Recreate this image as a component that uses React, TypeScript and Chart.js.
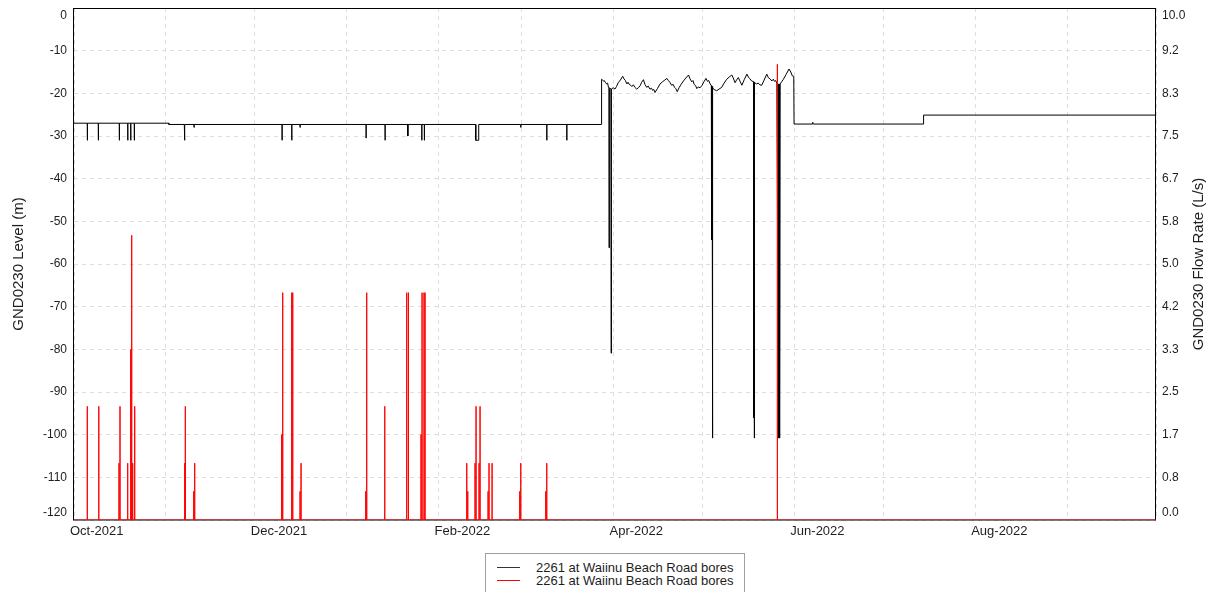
import React, { useEffect, useRef } from 'react';
import { Chart, registerables } from 'chart.js';

Chart.register(...registerables);

const FONT = "'Liberation Sans', Arial, Helvetica, sans-serif";
const TEXT_COLOR = '#1e1e1e';
const GRID_COLOR = '#dedede';
const LEVEL_COLOR = '#000000';
const FLOW_COLOR = '#ff0000';
const SERIES_LABEL = '2261 at Waiinu Beach Road bores';
const LEFT_TITLE = 'GND0230 Level (m)';
const RIGHT_TITLE = 'GND0230 Flow Rate (L/s)';

// x values are days since 1 Oct 2021
const monthStartDays = [0, 31, 61, 92, 123, 151, 182, 212, 243, 273, 304, 335, 365];
const monthLabels = ['Oct-2021', '', 'Dec-2021', '', 'Feb-2022', '', 'Apr-2022', '', 'Jun-2022', '', 'Aug-2022', '', ''];

const levelTickValues = [-120, -110, -100, -90, -80, -70, -60, -50, -40, -30, -20, -10, 0];
const flowTickLabels = ['0.0', '0.8', '1.7', '2.5', '3.3', '4.2', '5.0', '5.8', '6.7', '7.5', '8.3', '9.2', '10.0'];

// Level before pumping period: baseline steps
const earlyBaseDays = [0, 32, 177.95];
const earlyBaseLevels = [-27.0, -27.3, -27.3];

// Short dips of the level before pumping
const earlyDipDays = [4.49, 8.2, 15.28, 18.12, 19.13, 20.34, 37.21, 40.49, 70.18, 73.45, 76.25, 98.52, 104.93, 112.58, 117.31, 118.18, 135.53, 150.71, 159.48, 166.23];
const earlyDipLengths = [0.05, 0.05, 0.05, 0.05, 0.05, 0.05, 0.2, 0.05, 0.05, 0.05, 0.05, 0.05, 0.05, 0.1, 0.05, 0.05, 1.0, 0.05, 0.05, 0.05];
const earlyDipLevels = [-31, -31, -31, -31, -31, -31, -31, -28, -31, -31, -28, -30.5, -31, -30, -31, -31, -31, -28, -31, -31];

// Pumping period trace (days, levels), including its deep drawdowns
const pumpDays = [
  178.0, 178.3, 178.6, 178.9, 179.2, 179.7, 180.0, 180.3, 180.45, 180.5, 180.6, 181.1, 181.2, 181.3, 181.9, 182.5,
  183.0, 183.6, 184.3, 185.1, 185.5, 186.0, 186.5, 186.9, 187.3, 187.8, 188.2, 188.7, 189.2, 189.8, 190.4, 191.0,
  191.5, 192.1, 192.6, 193.2, 193.7, 194.3, 194.8, 195.2, 195.6, 196.0, 196.8, 197.7, 198.5, 199.3, 200.0, 200.5,
  201.0, 201.6, 202.1, 202.6, 203.0, 203.5, 204.1, 204.8, 205.6, 206.4, 207.3, 207.8, 208.4, 208.8, 209.2, 209.7,
  210.1, 210.6, 211.2, 211.8, 212.5, 213.2, 213.7, 214.1, 214.6, 215.0, 215.0, 215.05, 215.2, 215.25, 215.4, 215.45,
  215.7, 216.2, 216.8, 217.6, 218.5, 219.3, 220.2, 221.0, 221.9, 222.4, 223.0, 223.5, 224.1, 224.7, 225.3, 226.1,
  227.0, 227.5, 228.0, 228.6, 229.3, 229.3, 229.4, 229.5, 229.55, 230.3, 230.8, 231.4, 232.0, 232.8, 233.7, 234.2,
  234.8, 235.4, 235.9, 236.3, 236.7, 237.1, 237.5, 237.55, 237.7, 237.75, 237.9, 237.95, 238.1, 238.2, 238.8, 239.3,
  240.2, 241.2, 241.8, 242.3, 242.8,
];
const pumpLevels = [
  -16.7, -16.9, -17.1, -17.0, -17.4, -17.8, -17.6, -18.6, -18.7, -56.2, -18.8, -18.9, -80.9, -19.0, -18.7, -19.0,
  -18.4, -17.5, -16.9, -16.0, -16.6, -17.0, -17.8, -17.4, -17.9, -18.1, -18.4, -18.0, -18.6, -19.0, -18.7, -18.2,
  -17.4, -16.8, -17.9, -18.6, -18.3, -19.0, -18.8, -19.3, -19.1, -19.8, -18.9, -17.8, -17.3, -16.9, -16.5, -17.0,
  -17.4, -18.1, -17.9, -18.6, -18.9, -19.6, -18.7, -17.9, -17.1, -16.4, -15.7, -16.6, -17.3, -17.0, -17.9, -18.2,
  -18.9, -18.5, -18.7, -18.2, -17.3, -16.5, -17.2, -17.0, -17.8, -18.2, -54.3, -18.3, -54.3, -18.4, -100.8, -18.6,
  -19.0, -19.2, -19.4, -19.0, -18.6, -17.6, -16.7, -16.2, -15.7, -16.4, -17.5, -16.9, -16.3, -17.2, -18.1, -16.8,
  -15.5, -16.2, -16.6, -17.1, -17.3, -96.0, -17.4, -100.8, -17.5, -17.8, -17.6, -18.0, -18.1, -16.9, -15.5, -16.3,
  -16.6, -17.1, -16.7, -17.2, -17.0, -17.6, -77.3, -17.8, -100.8, -17.9, -77.3, -17.8, -100.8, -17.8, -17.2, -16.7,
  -15.6, -14.3, -15.0, -15.9, -16.0,
];

// After pumping
const lateDays = [242.9, 249.0, 249.2, 249.4, 286.6, 286.6, 365];
const lateLevels = [-27.2, -27.2, -26.8, -27.2, -27.2, -25.1, -25.1];

// Flow rate spikes (days, L/s)
const flowDays = [
  4.49, 8.27, 8.43, 15.18, 15.52, 18.12, 19.13, 19.47, 19.8, 20.48, 37.35, 37.55, 40.38, 40.72,
  70.07, 70.41, 73.45, 73.79, 76.25, 76.59, 98.41, 98.75, 104.83, 112.25, 112.69, 112.92,
  117.07, 117.41, 118.08, 118.42, 132.49, 132.83, 135.29, 135.63, 136.64, 136.98, 139.68, 140.01,
  141.03, 150.37, 150.71, 159.14, 159.48, 237.28,
];
const flowRates = [
  2.22, 1.11, 2.22, 1.11, 2.22, 1.11, 3.33, 5.56, 1.11, 2.22, 1.11, 2.22, 0.56, 1.11,
  1.67, 4.44, 4.44, 4.44, 0.56, 1.11, 0.56, 4.44, 2.22, 4.44, 4.44, 2.22,
  1.67, 4.44, 4.44, 4.44, 1.11, 0.56, 1.11, 2.22, 1.11, 2.22, 0.56, 1.11,
  1.11, 0.56, 1.11, 0.56, 1.11, 8.9,
];

type Pt = { x: number; y: number };

function buildLevelSeries(): Pt[] {
  const early: Pt[] = [];
  for (let i = 0; i < earlyBaseDays.length; i++) {
    const lvl = i === 0 ? earlyBaseLevels[0] : earlyBaseLevels[i - 1];
    if (i > 0) early.push({ x: earlyBaseDays[i], y: lvl });
    early.push({ x: earlyBaseDays[i], y: earlyBaseLevels[i] });
  }
  earlyDipDays.forEach((d, i) => {
    const base = d < earlyBaseDays[1] ? earlyBaseLevels[0] : earlyBaseLevels[1];
    const end = d + earlyDipLengths[i];
    early.push({ x: d, y: base }, { x: d, y: earlyDipLevels[i] }, { x: end, y: earlyDipLevels[i] }, { x: end, y: base });
  });
  early.sort((a, b) => a.x - b.x);
  const pump = pumpDays.map((d, i) => ({ x: d, y: pumpLevels[i] }));
  const late = lateDays.map((d, i) => ({ x: d, y: lateLevels[i] }));
  return [...early, ...pump, ...late];
}

function buildFlowSeries(): Pt[] {
  const pts: Pt[] = [{ x: 0, y: 0 }];
  flowDays.forEach((d, i) => {
    pts.push({ x: d, y: 0 }, { x: d, y: flowRates[i] }, { x: d, y: 0 });
  });
  pts.push({ x: 365, y: 0 });
  return pts;
}

const framePlugin = {
  id: 'plotFrame',
  beforeDatasetsDraw(chart: any) {
    const { ctx, chartArea } = chart;
    ctx.save();
    ctx.strokeStyle = '#000';
    ctx.lineWidth = 1;
    ctx.strokeRect(
      Math.round(chartArea.left) - 0.5,
      Math.round(chartArea.top) + 0.5,
      Math.round(chartArea.right - chartArea.left),
      Math.round(chartArea.bottom - chartArea.top) - 0.5,
    );
    ctx.restore();
  },
};

const rightTitlePlugin = {
  id: 'rightTitle',
  afterDraw(chart: any) {
    const { ctx, chartArea } = chart;
    ctx.save();
    ctx.font = `15px ${FONT}`;
    ctx.fillStyle = TEXT_COLOR;
    ctx.textAlign = 'center';
    ctx.textBaseline = 'middle';
    ctx.translate(chart.width - 16, (chartArea.top + chartArea.bottom) / 2);
    ctx.rotate(-Math.PI / 2);
    ctx.fillText(RIGHT_TITLE, 0, 0);
    ctx.restore();
  },
};

function Legend() {
  const row = (top: number, color: string) => (
    <div style={{ position: 'absolute', left: 0, top, width: '100%', height: 13 }}>
      <div style={{ position: 'absolute', left: 11, top: 6, width: 23, height: 1, background: color }} />
      <div style={{ position: 'absolute', left: 50, top: 0, lineHeight: '13px', fontSize: 13, whiteSpace: 'nowrap' }}>
        {SERIES_LABEL}
      </div>
    </div>
  );
  return (
    <div
      style={{
        position: 'absolute',
        left: 485,
        top: 553,
        width: 260,
        height: 48,
        boxSizing: 'border-box',
        border: '1px solid #a0a0a0',
        background: '#fff',
        fontFamily: FONT,
        color: TEXT_COLOR,
      }}
    >
      {row(7, '#333')}
      {row(20, FLOW_COLOR)}
    </div>
  );
}

export default function App() {
  const ref = useRef<HTMLCanvasElement>(null);

  useEffect(() => {
    const canvas = ref.current;
    if (!canvas) return;
    Chart.defaults.font.family = FONT;
    const chart = new Chart(canvas, {
      type: 'line',
      data: {
        datasets: [
          {
            label: SERIES_LABEL,
            data: buildFlowSeries(),
            yAxisID: 'y2',
            borderColor: FLOW_COLOR,
            backgroundColor: FLOW_COLOR,
            borderWidth: 1,
            pointRadius: 0,
            tension: 0,
            order: 0,
          },
          {
            label: SERIES_LABEL,
            data: buildLevelSeries(),
            yAxisID: 'y',
            borderColor: LEVEL_COLOR,
            backgroundColor: LEVEL_COLOR,
            borderWidth: 1,
            pointRadius: 0,
            tension: 0,
            order: 1,
          },
        ],
      },
      options: {
        animation: false,
        responsive: false,
        devicePixelRatio: 1,
        layout: { padding: { top: 8, left: 0, right: 0, bottom: 0 } },
        plugins: { legend: { display: false }, tooltip: { enabled: false } },
        scales: {
          x: {
            type: 'linear',
            min: 0,
            max: 365,
            afterBuildTicks: (s: any) => {
              s.ticks = monthStartDays.map((v) => ({ value: v }));
            },
            afterFit: (s: any) => {
              s.height = 72;
              s.paddingLeft = 0;
              s.paddingRight = 0;
            },
            ticks: {
              autoSkip: false,
              maxRotation: 0,
              minRotation: 0,
              align: 'start',
              labelOffset: -4,
              padding: 4,
              color: TEXT_COLOR,
              font: { size: 13, family: FONT },
              callback: (_v: any, i: number) => monthLabels[i],
            },
            grid: { color: GRID_COLOR, drawTicks: false, lineWidth: 1 },
            border: { display: false, dash: [4, 4] },
          },
          y: {
            type: 'linear',
            position: 'left',
            min: -120,
            max: 0,
            afterBuildTicks: (s: any) => {
              s.ticks = levelTickValues.map((v) => ({ value: v }));
            },
            afterFit: (s: any) => {
              s.width = 74;
              s.paddingTop = 0;
              s.paddingBottom = 0;
            },
            ticks: {
              autoSkip: false,
              padding: 7,
              color: TEXT_COLOR,
              font: { size: 12, family: FONT },
              callback: (v: any) => {
                const n = Number(v);
                if (n === 0) return ['', '0'];
                if (n === -120) return ['-120', ''];
                return String(n);
              },
            },
            grid: { color: GRID_COLOR, drawTicks: false, lineWidth: 1 },
            border: { display: false, dash: [4, 4] },
            title: {
              display: true,
              text: LEFT_TITLE,
              color: TEXT_COLOR,
              font: { size: 15, family: FONT },
              padding: { top: 10, bottom: 0 },
            },
          },
          y2: {
            type: 'linear',
            position: 'right',
            min: 0,
            max: 10,
            afterBuildTicks: (s: any) => {
              s.ticks = flowTickLabels.map((_l, i) => ({ value: (i * 10) / 12 }));
            },
            afterFit: (s: any) => {
              s.width = 59;
              s.paddingTop = 0;
              s.paddingBottom = 0;
            },
            ticks: {
              autoSkip: false,
              padding: 6,
              color: TEXT_COLOR,
              font: { size: 12, family: FONT },
              callback: (_v: any, i: number) => {
                const lab = flowTickLabels[i];
                if (i === 0) return [lab, ''];
                if (i === flowTickLabels.length - 1) return ['', lab];
                return lab;
              },
            },
            grid: { display: false, drawTicks: false },
            border: { display: false },
          },
        },
      } as any,
      plugins: [framePlugin, rightTitlePlugin],
    });
    return () => chart.destroy();
  }, []);

  return (
    <div
      style={{
        position: 'fixed',
        left: 0,
        top: 0,
        width: 1215,
        height: 592,
        overflow: 'hidden',
        background: '#fff',
      }}
    >
      <canvas ref={ref} width={1215} height={592} style={{ display: 'block', width: 1215, height: 592 }} />
      <Legend />
    </div>
  );
}
